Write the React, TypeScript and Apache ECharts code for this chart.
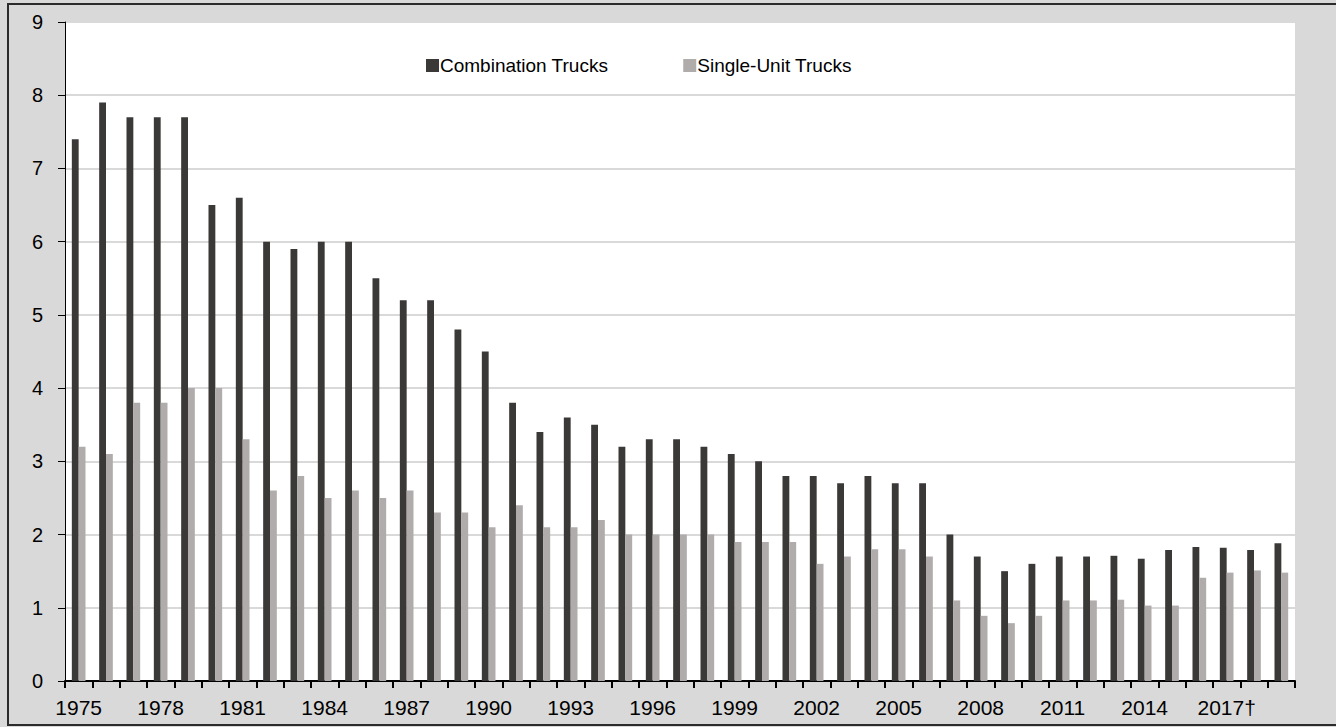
import React, { useEffect, useRef } from "react";
import * as echarts from "echarts";

const years: string[] = [
  "1975", "1976", "1977", "1978", "1979", "1980", "1981", "1982", "1983", "1984",
  "1985", "1986", "1987", "1988", "1989", "1990", "1991", "1992", "1993", "1994",
  "1995", "1996", "1997", "1998", "1999", "2000", "2001", "2002", "2003", "2004",
  "2005", "2006", "2007", "2008", "2009", "2010", "2011", "2012", "2013", "2014",
  "2015", "2016", "2017†", "2018", "2019",
];

const combinationTrucks: number[] = [
  7.4, 7.9, 7.7, 7.7, 7.7, 6.5, 6.6, 6.0, 5.9, 6.0,
  6.0, 5.5, 5.2, 5.2, 4.8, 4.5, 3.8, 3.4, 3.6, 3.5,
  3.2, 3.3, 3.3, 3.2, 3.1, 3.0, 2.8, 2.8, 2.7, 2.8,
  2.7, 2.7, 2.0, 1.7, 1.5, 1.6, 1.7, 1.7, 1.71, 1.67,
  1.79, 1.83, 1.82, 1.79, 1.88,
];

const singleUnitTrucks: number[] = [
  3.2, 3.1, 3.8, 3.8, 4.0, 4.0, 3.3, 2.6, 2.8, 2.5,
  2.6, 2.5, 2.6, 2.3, 2.3, 2.1, 2.4, 2.1, 2.1, 2.2,
  2.0, 2.0, 2.0, 2.0, 1.9, 1.9, 1.9, 1.6, 1.7, 1.8,
  1.8, 1.7, 1.1, 0.89, 0.79, 0.89, 1.1, 1.1, 1.11, 1.03,
  1.03, 1.41, 1.48, 1.51, 1.48,
];

const yTicks = { min: 0, max: 9, interval: 1 };

const FONT = "'Liberation Sans', Arial, sans-serif";

export default function App() {
  const ref = useRef<HTMLDivElement>(null);

  useEffect(() => {
    document.body.style.margin = "0";
    if (!ref.current) return;
    const chart = echarts.init(ref.current, undefined, { renderer: "svg" });
    chart.setOption({
      animation: false,
      backgroundColor: "#d9d9d9",
      textStyle: { fontFamily: FONT },
      graphic: [
        {
          type: "rect",
          shape: { x: 8, y: 4, width: 1400, height: 721 },
          style: { fill: "none", stroke: "#2b2b2b", lineWidth: 2 },
          silent: true,
          z: 100,
        },
      ],
      legend: {
        left: 426,
        top: 56,
        padding: 0,
        icon: "rect",
        itemWidth: 13,
        itemHeight: 13,
        itemGap: 75,
        textStyle: { fontFamily: FONT, fontSize: 19, color: "#000", padding: [0, 0, 0, -4] },
        data: ["Combination Trucks", "Single-Unit Trucks"],
      },
      grid: {
        left: 65,
        right: 41,
        top: 22,
        bottom: 46,
        show: true,
        backgroundColor: "#ffffff",
        borderWidth: 0,
      },
      xAxis: {
        type: "category",
        data: years,
        boundaryGap: true,
        axisLine: { show: true, lineStyle: { color: "#000", width: 2 } },
        axisTick: { show: true, interval: 0, length: 7, lineStyle: { color: "#000", width: 2 } },
        axisLabel: {
          interval: 2,
          fontSize: 21,
          color: "#000",
          margin: 16,
          fontFamily: FONT,
        },
        splitLine: { show: false },
      },
      yAxis: {
        type: "value",
        min: yTicks.min,
        max: yTicks.max,
        interval: yTicks.interval,
        axisLine: { show: true, lineStyle: { color: "#000", width: 1 } },
        axisTick: { show: true, length: 7, inside: false, lineStyle: { color: "#000", width: 1 } },
        axisLabel: { fontSize: 20, color: "#000", margin: 22, fontFamily: FONT },
        splitLine: { show: true, lineStyle: { color: "#d9d9d9", width: 2 } },
      },
      series: [
        {
          name: "Combination Trucks",
          type: "bar",
          data: combinationTrucks,
          itemStyle: { color: "#3a3937" },
          barGap: "0%",
          barCategoryGap: "50%",
        },
        {
          name: "Single-Unit Trucks",
          type: "bar",
          data: singleUnitTrucks,
          itemStyle: { color: "#b0acab" },
          barGap: "0%",
          barCategoryGap: "50%",
        },
      ],
    });
    return () => chart.dispose();
  }, []);

  return <div ref={ref} style={{ width: 1336, height: 727 }} />;
}
